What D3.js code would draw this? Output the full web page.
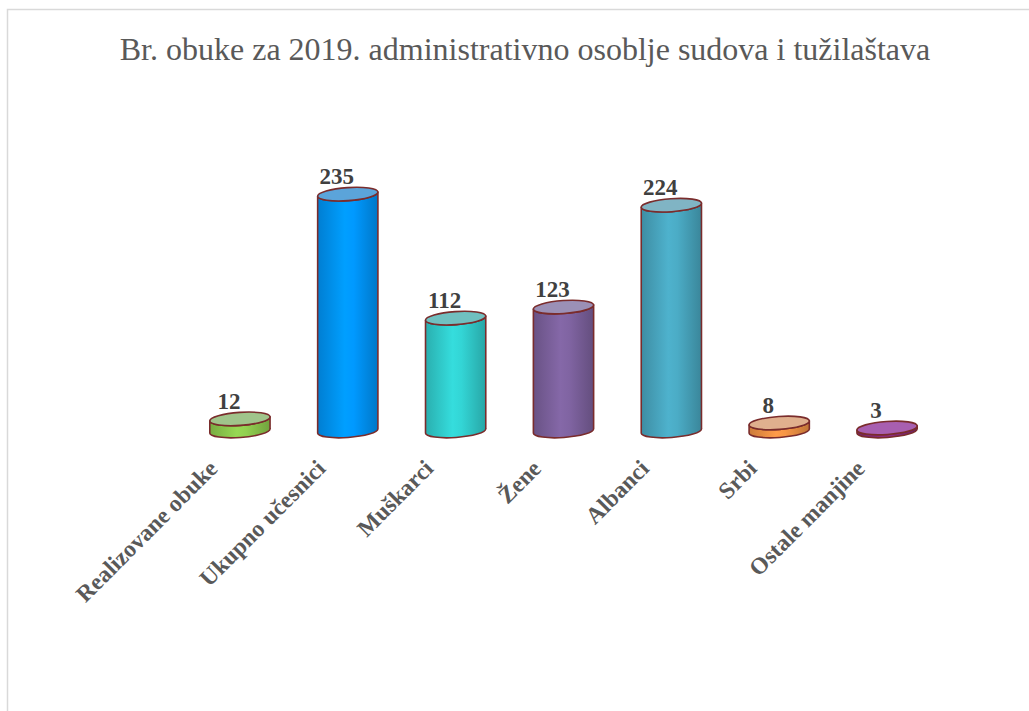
<!DOCTYPE html>
<html>
<head>
  <meta charset="utf-8">
  <script src="https://cdn.jsdelivr.net/npm/d3@7/dist/d3.min.js"></script>
  <style>
    body { margin: 0; background: #fff; }
    svg { display: block; }
  </style>
</head>
<body>
  <div id="chartContainer"></div>

  <script type="text/javascript">
    // chart values
    var categories = ["Realizovane obuke", "Ukupno učesnici", "Muškarci", "Žene", "Albanci", "Srbi", "Ostale manjine"];
    var values = [12, 235, 112, 123, 224, 8, 3];
    var sideColors = ["#92d050", "#0099ff", "#33d5d5", "#8064a2", "#4bacc6", "#f79646", "#8a2a7e"];
    var topColors = ["#a0c48b", "#5ba4da", "#70c0c0", "#9b90b6", "#80b4c4", "#e0b08e", "#a85fb0"];
    var title = "Br. obuke za 2019. administrativno osoblje sudova i tužilaštava";

    var width = 1029, height = 711;
    var svg = d3.select("#chartContainer").append("svg")
      .attr("width", width)
      .attr("height", height);

    // light chart frame
    svg.append("rect")
      .attr("x", 7.5).attr("y", 9.5)
      .attr("width", 1040).attr("height", 720)
      .attr("fill", "#fff")
      .attr("stroke", "#d9d9d9")
      .attr("stroke-width", 1.5);

    svg.append("text")
      .attr("x", 525)
      .attr("y", 60)
      .style("text-anchor", "middle")
      .style("font-family", "'Liberation Serif', 'Times New Roman', serif")
      .style("font-size", "32px")
      .style("fill", "#595959")
      .text(title);

    var x = d3.scaleBand().domain(categories).range([186, 941]);
    var y = d3.scaleLinear().domain([0, 250]).range([431, 179]);

    var defs = svg.append("defs");
    sideColors.forEach(function (c, i) {
      var g = defs.append("linearGradient")
        .attr("id", "side" + i)
        .attr("x1", "0%").attr("x2", "100%")
        .attr("y1", "0%").attr("y2", "0%");
      var base = d3.color(c);
      g.append("stop").attr("offset", "0%").attr("stop-color", base.darker(0.55));
      g.append("stop").attr("offset", "45%").attr("stop-color", base.brighter(0.1));
      g.append("stop").attr("offset", "60%").attr("stop-color", base);
      g.append("stop").attr("offset", "100%").attr("stop-color", base.darker(0.7));
    });

    var rx = x.bandwidth() * 0.28;   // half of cylinder width
    var ry = 6.5;
    var tilt = -4;                  // degrees, right end of ellipse is higher
    var ct = Math.cos(tilt * Math.PI / 180), st = Math.sin(tilt * Math.PI / 180);

    var data = categories.map(function (c, i) { return { cat: c, value: values[i], i: i }; });

    var bars = svg.selectAll("g.bar").data(data).enter().append("g").attr("class", "bar");

    bars.each(function (d) {
      var g = d3.select(this);
      var cx = x(d.cat) + x.bandwidth() / 2;
      var yb = y(0), yt = y(d.value);
      var lx = cx - rx * ct, rxp = cx + rx * ct;
      var ldy = -rx * st, rdy = rx * st;

      var side = "M" + lx + "," + (yt + ldy) +
        "L" + lx + "," + (yb + ldy) +
        "A" + rx + "," + ry + " " + tilt + " 0 0 " + rxp + "," + (yb + rdy) +
        "L" + rxp + "," + (yt + rdy) +
        "A" + rx + "," + ry + " " + tilt + " 0 1 " + lx + "," + (yt + ldy) + "Z";

      g.append("path")
        .attr("d", side)
        .attr("fill", "url(#side" + d.i + ")")
        .attr("stroke", "#7a2c2c")
        .attr("stroke-width", 1.6)
        .attr("stroke-linejoin", "round");

      g.append("ellipse")
        .attr("cx", cx).attr("cy", yt)
        .attr("rx", rx).attr("ry", ry)
        .attr("transform", "rotate(" + tilt + "," + cx + "," + yt + ")")
        .attr("fill", topColors[d.i])
        .attr("stroke", "#7a2c2c")
        .attr("stroke-width", 1.6);

      g.append("text")
        .attr("x", cx - 11)
        .attr("y", yt - 10)
        .style("text-anchor", "middle")
        .style("font-family", "'Liberation Serif', 'Times New Roman', serif")
        .style("font-weight", "bold")
        .style("font-size", "23px")
        .style("fill", "#404040")
        .text(d.value);

      g.append("text")
        .attr("transform", "translate(" + (cx - 21) + ",470) rotate(-45)")
        .style("text-anchor", "end")
        .style("font-family", "'Liberation Serif', 'Times New Roman', serif")
        .style("font-weight", "bold")
        .style("font-size", "23.5px")
        .style("fill", "#595959")
        .text(d.cat);
    });
  </script>
</body>
</html>
